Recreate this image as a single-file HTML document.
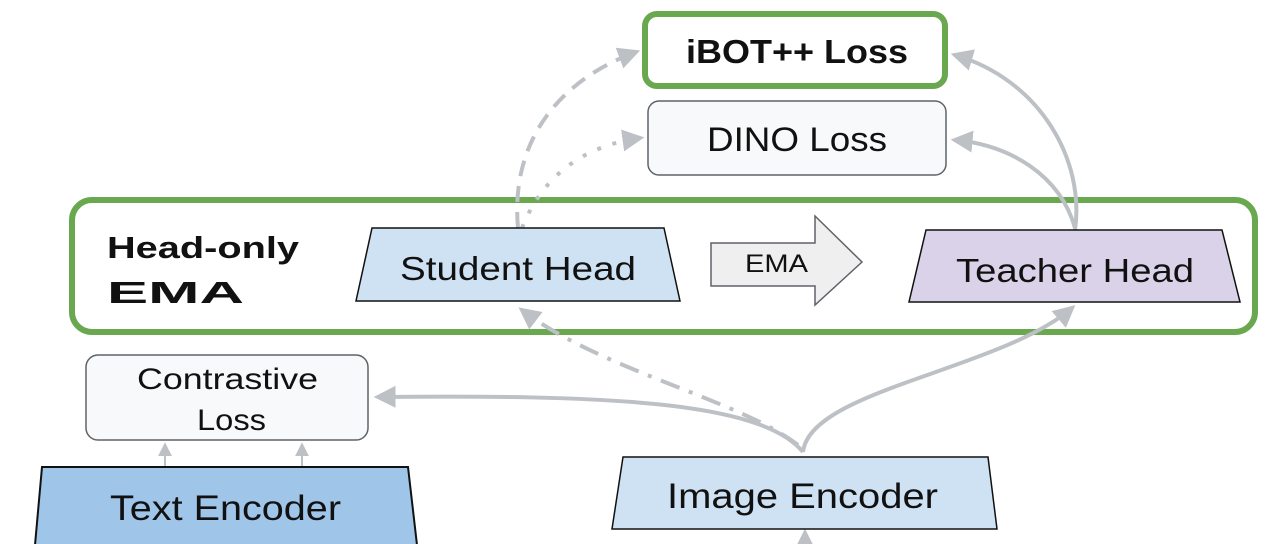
<!DOCTYPE html>
<html><head><meta charset="utf-8"><style>
html,body{margin:0;padding:0;background:#fff;}
svg{display:block;}
text{font-family:"Liberation Sans",sans-serif;fill:#111;}
</style></head><body>
<svg width="1280" height="544" viewBox="0 0 1280 544">
<defs>
<marker id="a" viewBox="0 0 10 10" refX="8" refY="5" markerWidth="22" markerHeight="22" orient="auto" markerUnits="userSpaceOnUse"><path d="M0,0 L10,5 L0,10 z" fill="#bdc1c6"/></marker>
<marker id="as" viewBox="0 0 10 10" refX="8" refY="5" markerWidth="14" markerHeight="14" orient="auto" markerUnits="userSpaceOnUse"><path d="M0,0 L10,5 L0,10 z" fill="#bdc1c6"/></marker>
</defs>
<rect x="72" y="200" width="1183" height="132" rx="20" fill="#fff" stroke="#6aa84f" stroke-width="6"/>
<g fill="none" stroke="#bdc1c6" stroke-width="4">
<path d="M518 228 C510 140 560 80 636 52" stroke-dasharray="16 10" marker-end="url(#a)"/>
<path d="M522 228 C545 170 590 145 640 138" stroke-dasharray="4 12" marker-end="url(#a)"/>
<path d="M1075 230 C1085 160 1040 80 955 55" marker-end="url(#a)"/>
<path d="M1075 228 C1060 175 1010 145 955 140" marker-end="url(#a)"/>
<path d="M803 452 C760 400 600 395 378 397" marker-end="url(#a)"/>
<path d="M798 445 C740 400 600 370 522 310" stroke-dasharray="20 10 4 10" marker-end="url(#a)"/>
<path d="M803 452 C810 390 1000 370 1072 308" marker-end="url(#a)"/>
<path d="M165 467 L165 445" stroke-width="2" marker-end="url(#as)"/>
<path d="M302 467 L302 445" stroke-width="2" marker-end="url(#as)"/>
<path d="M805 544 L805 533" marker-end="url(#a)"/>
</g>
<rect x="645" y="14" width="300" height="72" rx="12" fill="#fff" stroke="#6aa84f" stroke-width="6"/>
<text x="686" y="63" font-size="33" font-weight="bold" textLength="222" lengthAdjust="spacingAndGlyphs">iBOT++ Loss</text>
<rect x="648" y="101" width="298" height="74" rx="11" fill="#f8f9fa" stroke="#5f6368" stroke-width="1.5"/>
<text x="707" y="151" font-size="34" textLength="180" lengthAdjust="spacingAndGlyphs">DINO Loss</text>
<text x="107" y="258" font-size="31" font-weight="bold" textLength="192" lengthAdjust="spacingAndGlyphs">Head-only</text>
<text x="107" y="303" font-size="31" font-weight="bold" textLength="137" lengthAdjust="spacingAndGlyphs">EMA</text>
<polygon points="372,228 664,228 680,301 356,301" fill="#cfe2f3" stroke="#111" stroke-width="1.5"/>
<text x="400" y="280" font-size="33" textLength="236" lengthAdjust="spacingAndGlyphs">Student Head</text>
<polygon points="711,243 815,243 815,216 862,262 815,305 815,286 711,286" fill="#efefef" stroke="#5f6368" stroke-width="1.5"/>
<text x="745" y="272" font-size="25" textLength="63" lengthAdjust="spacingAndGlyphs">EMA</text>
<polygon points="926,230 1222,230 1240,302 909,302" fill="#d9d2e9" stroke="#111" stroke-width="1.5"/>
<text x="956" y="282" font-size="33" textLength="238" lengthAdjust="spacingAndGlyphs">Teacher Head</text>
<rect x="86" y="355" width="282" height="85" rx="12" fill="#f8f9fa" stroke="#5f6368" stroke-width="1.5"/>
<text x="137" y="389" font-size="30" textLength="181" lengthAdjust="spacingAndGlyphs">Contrastive</text>
<text x="197" y="430" font-size="30" textLength="69" lengthAdjust="spacingAndGlyphs">Loss</text>
<polygon points="42,467 408,467 417,545 35,545" fill="#9fc5e8" stroke="#111" stroke-width="2"/>
<text x="110" y="520" font-size="35" textLength="231" lengthAdjust="spacingAndGlyphs">Text Encoder</text>
<polygon points="623,457 988,457 997,529 612,529" fill="#cfe2f3" stroke="#111" stroke-width="1.5"/>
<text x="667" y="508" font-size="35" textLength="271" lengthAdjust="spacingAndGlyphs">Image Encoder</text>
</svg>
</body></html>
